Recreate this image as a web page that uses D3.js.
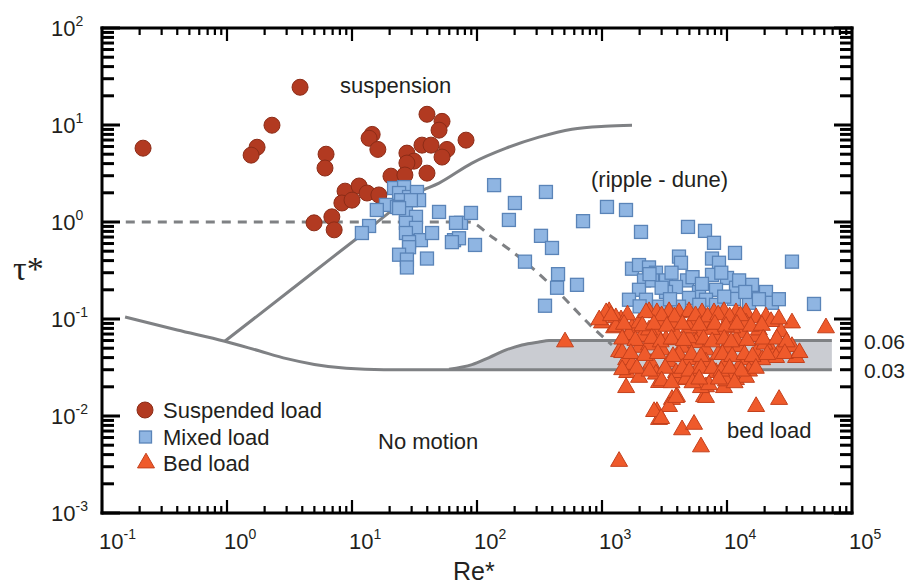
<!DOCTYPE html>
<html>
<head>
<meta charset="utf-8">
<script src="https://cdn.jsdelivr.net/npm/d3@7"></script>
<style>
body { margin: 0; background: #fff; }
text { font-family: "Liberation Sans", Arial, sans-serif; fill: #231f20; }
</style>
</head>
<body>
<div id="chart"></div>
<script>
// Re* / tau* values
var suspendedLoad = [
  [0.213, 5.77], [3.84, 24.5], [2.29, 9.95], [1.74, 5.9], [1.56, 4.89], [6.2, 5.0], [6.08, 3.6],
  [8.8, 2.08], [8.3, 1.57], [4.97, 0.98], [6.9, 1.13], [7.2, 0.83], [39.8, 12.9], [52.5, 10.9],
  [49.7, 8.85], [14.5, 8.0], [13.7, 7.3], [16.1, 5.6], [36.3, 6.2], [42.9, 6.2], [81.7, 6.98],
  [57.5, 5.6], [52.5, 4.67], [27.5, 5.13], [31.3, 4.24], [27.5, 4.05], [39.8, 3.19], [20.5, 2.97],
  [26.5, 3.05], [11.4, 2.35], [13.2, 1.99], [16.4, 1.9], [10, 1.68]
];

var mixedLoad = [
  [21.7, 2.24], [26.1, 2.29], [23.8, 1.99], [28.6, 1.81], [33.1, 2.04], [34.4, 1.68], [24.7, 1.68],
  [18.7, 1.5], [15.8, 1.33], [22.9, 1.43], [27, 1.24], [32.5, 1.13], [49.7, 1.27], [27, 0.98],
  [32.5, 0.87], [27, 0.77], [35.6, 0.65], [43.7, 0.77], [28.6, 0.62], [28.6, 0.55], [23.8, 0.46],
  [27.5, 0.41], [27.5, 0.34], [39.8, 0.42], [13.7, 0.91], [12, 0.77], [65.5, 0.65], [71.8, 0.68],
  [96.4, 0.58], [74.5, 0.98], [89.5, 1.24], [67.9, 0.98], [29.6, 1.68], [23.8, 1.39], [63, 0.62],
  [137, 2.4], [356, 2.04], [201, 1.57], [180, 1.05], [325, 0.72], [398, 0.54], [242, 0.39],
  [445, 0.29], [437, 0.21], [631, 0.225], [350, 0.137], [1096, 1.43], [1556, 1.33], [705, 1.02],
  [2051, 0.79], [4875, 0.89], [6668, 0.81], [7870, 0.61], [11590, 0.48], [4130, 0.44], [4285, 0.38],
  [7586, 0.42], [8630, 0.38], [33100, 0.39], [1738, 0.33], [1977, 0.36], [2377, 0.34], [2704, 0.30],
  [2168, 0.25], [3251, 0.25], [4786, 0.25], [7586, 0.285], [10000, 0.265], [3908, 0.214],
  [15850, 0.225], [20500, 0.19], [1977, 0.2], [3251, 0.19], [5970, 0.19], [8166, 0.2], [11800, 0.21],
  [1644, 0.158], [2249, 0.158], [4966, 0.165], [6792, 0.158], [11376, 0.161], [15000, 0.147],
  [22900, 0.147], [49660, 0.143], [2858, 0.134], [4130, 0.134], [8166, 0.14], [2512, 0.25],
  [2400, 0.29], [3000, 0.21], [3600, 0.3], [5300, 0.27], [6300, 0.23], [9000, 0.3], [12500, 0.25],
  [14000, 0.19], [18000, 0.16], [26000, 0.16], [3500, 0.16], [6000, 0.14], [9500, 0.17], [2000, 0.135]
];

var bedLoad = [
  [506, 0.058], [61900, 0.081], [33100, 0.091], [27000, 0.074], [35700, 0.040], [26100, 0.0148],
  [17100, 0.0125], [1370, 0.0034], [6190, 0.0048], [4370, 0.0072], [5450, 0.0082], [1560, 0.0196],
  [2750, 0.0111], [2860, 0.0092], [3630, 0.0148], [3980, 0.0158], [6550, 0.0158], [9460, 0.0196],
  [6790, 0.020], [2860, 0.0221], [1590, 0.028], [3440, 0.0125], [3910, 0.0155], [2610, 0.0111],
  [2970, 0.0094], [6790, 0.0155], [6190, 0.0196], [4130, 0.0237], [11800, 0.0237], [1140, 0.119],
  [1000, 0.091], [1420, 0.098], [1250, 0.081], [1740, 0.081], [1980, 0.091], [2380, 0.119],
  [2750, 0.116], [3440, 0.119], [4130, 0.116], [4970, 0.119], [6310, 0.116], [7870, 0.116],
  [9460, 0.119], [11800, 0.116], [14200, 0.116], [17100, 0.103], [20500, 0.105], [22500, 0.094],
  [1640, 0.069], [2700, 0.072], [3910, 0.069], [5970, 0.072], [9120, 0.074], [13200, 0.072],
  [17100, 0.066], [1370, 0.046], [1560, 0.038], [1980, 0.051], [3020, 0.048], [4370, 0.051],
  [5650, 0.057], [6790, 0.048], [9820, 0.051], [12500, 0.052], [17100, 0.045], [22500, 0.048],
  [27500, 0.051], [33100, 0.052], [24700, 0.040], [19100, 0.038], [14200, 0.038], [9820, 0.036],
  [6790, 0.036], [4970, 0.038], [3440, 0.036], [2470, 0.035], [1740, 0.034], [1450, 0.030],
  [2700, 0.027], [3910, 0.028], [5650, 0.027], [8170, 0.028], [11000, 0.027], [15000, 0.029],
  [14200, 0.025], [4700, 0.024], [7180, 0.021], [9820, 0.023], [2090, 0.066], [3250, 0.061],
  [4970, 0.064], [8170, 0.064], [11800, 0.061], [3630, 0.091], [5250, 0.094], [7180, 0.091],
  [10400, 0.091], [14200, 0.091], [2860, 0.091], [1080, 0.116], [1290, 0.103], [1290, 0.083],
  [2250, 0.116], [1450, 0.045], [2380, 0.077], [4970, 0.081], [7500, 0.078], [11000, 0.081],
  [18000, 0.077], [4130, 0.043], [5970, 0.032], [8500, 0.043], [12500, 0.032], [2380, 0.054],
  [20000, 0.055], [1980, 0.025], [950, 0.098],
  [1180, 0.108], [1600, 0.11], [3000, 0.108], [3800, 0.105], [5600, 0.108], [7000, 0.105],
  [8500, 0.11], [10500, 0.105], [12800, 0.108], [26000, 0.10],
  [1500, 0.088], [2100, 0.085], [2600, 0.088], [3300, 0.084], [4400, 0.088], [6000, 0.086],
  [8000, 0.088], [9800, 0.084], [12000, 0.088], [15500, 0.084], [19000, 0.086],
  [1450, 0.062], [1850, 0.06], [2500, 0.063], [2950, 0.058], [3600, 0.062], [4500, 0.06],
  [6500, 0.062], [7600, 0.058], [9500, 0.062], [10800, 0.058], [14500, 0.06], [19500, 0.062],
  [25000, 0.062], [30000, 0.058],
  [1700, 0.044], [2200, 0.042], [2800, 0.044], [3700, 0.041], [5200, 0.043], [6200, 0.041],
  [9200, 0.043], [11000, 0.041], [13800, 0.043], [16000, 0.041], [21000, 0.043], [29000, 0.044],
  [38000, 0.045],
  [1900, 0.031], [2400, 0.029], [3200, 0.031], [4400, 0.031], [5000, 0.029], [6200, 0.031],
  [7600, 0.031], [9000, 0.029], [10500, 0.031], [13000, 0.029], [17000, 0.031],
  [3000, 0.023], [3600, 0.022], [5300, 0.022], [6000, 0.024], [8600, 0.024], [11500, 0.022]
];

// threshold curves
var shieldsCurve = [[0.153, 0.105], [0.4, 0.077], [0.96, 0.059], [1.8, 0.047], [3, 0.039],
  [5, 0.034], [9, 0.031], [18, 0.030], [69000, 0.030]];
var upperBand = [[59.7, 0.0303], [91.2, 0.0338], [125, 0.040], [171, 0.048], [229, 0.054],
  [313, 0.058], [377, 0.060], [69000, 0.060]];
var bandBase = 0.03;
var suspensionCurve = [[0.96, 0.059], [3.25, 0.2], [11, 0.68], [34.4, 2.04], [49.7, 2.52],
  [91.2, 4.05], [171, 5.77], [313, 7.49], [575, 9.05], [1057, 9.72], [1738, 9.95]];
var rippleDuneLine = [[0.155, 1], [86.3, 1], [132, 0.70], [247, 0.38], [453, 0.186],
  [832, 0.083], [1202, 0.054]];

var xMajor = [0.1, 1, 10, 100, 1000, 10000, 100000];
var xExp = ["-1", "0", "1", "2", "3", "4", "5"];
var yMajor = [0.001, 0.01, 0.1, 1, 10, 100];
var yExp = ["-3", "-2", "-1", "0", "1", "2"];
var bandLabels = [[0.06, "0.06"], [0.03, "0.03"]];
var legendItems = ["Suspended load", "Mixed load", "Bed load"];

var W = 909, H = 587;
var pLeft = 102, pRight = 852, pTop = 28, pBottom = 513;

var svg = d3.select("#chart").append("svg")
  .attr("width", W).attr("height", H);

var x = d3.scaleLog().domain([0.1, 1e5]).range([pLeft, pRight]);
var y = d3.scaleLog().domain([1e-3, 1e2]).range([pBottom, pTop]);

var grey = "#7f8184";
var ink = "#000000";

// shaded band
var area = d3.area()
  .x(function(d) { return x(d[0]); })
  .y0(y(bandBase))
  .y1(function(d) { return y(d[1]); })
  .curve(d3.curveMonotoneX);
svg.append("path").datum(upperBand)
  .attr("d", area).attr("fill", "#caccd2");

var line = d3.line()
  .x(function(d) { return x(d[0]); })
  .y(function(d) { return y(d[1]); })
  .curve(d3.curveMonotoneX);

[shieldsCurve, upperBand, suspensionCurve].forEach(function(c) {
  svg.append("path").datum(c)
    .attr("d", line)
    .attr("fill", "none").attr("stroke", grey).attr("stroke-width", 3);
});
svg.append("path").datum(rippleDuneLine)
  .attr("d", line)
  .attr("fill", "none").attr("stroke", grey).attr("stroke-width", 3)
  .attr("stroke-dasharray", "9,7");

// data points
svg.append("g").selectAll("circle")
  .data(suspendedLoad).enter().append("circle")
  .attr("cx", function(d) { return x(d[0]); })
  .attr("cy", function(d) { return y(d[1]); })
  .attr("r", 8)
  .attr("fill", "#b23a21").attr("stroke", "#8c2c17").attr("stroke-width", 1);

svg.append("g").selectAll("rect")
  .data(mixedLoad).enter().append("rect")
  .attr("x", function(d) { return x(d[0]) - 6.5; })
  .attr("y", function(d) { return y(d[1]) - 6.5; })
  .attr("width", 13).attr("height", 13)
  .attr("fill", "#8fb5e2").attr("stroke", "#5a84b8").attr("stroke-width", 1.3);

var tri = d3.symbol().type(d3.symbolTriangle).size(125);
svg.append("g").selectAll("path")
  .data(bedLoad).enter().append("path")
  .attr("d", tri)
  .attr("transform", function(d) { return "translate(" + x(d[0]) + "," + y(d[1]) + ")"; })
  .attr("fill", "#ef5a2b").attr("stroke", "#c4401c").attr("stroke-width", 1);

// frame and ticks as filled bars, ticks point into the plot
var xMinor = x.ticks().filter(function(v) { return xMajor.indexOf(v) < 0; });
var yMinor = y.ticks().filter(function(v) { return yMajor.indexOf(v) < 0; });

var axisG = svg.append("g").attr("class", "frame");
function bar(x0, y0, w, h) {
  axisG.append("rect").attr("x", x0).attr("y", y0)
    .attr("width", w).attr("height", h).style("fill", ink);
}
bar(pLeft - 1.5, pTop - 1.5, pRight - pLeft + 3, 3);
bar(pLeft - 1.5, pBottom - 1.5, pRight - pLeft + 3, 3);
bar(pLeft - 1.5, pTop - 1.5, 3, pBottom - pTop + 3);
bar(pRight - 1.5, pTop - 1.5, 3, pBottom - pTop + 3);

function xTicks(vals, len) {
  vals.forEach(function(v) {
    bar(x(v) - 1.1, pBottom - len, 2.2, len);
    bar(x(v) - 1.1, pTop, 2.2, len);
  });
}
function yTicks(vals, len) {
  vals.forEach(function(v) {
    bar(pLeft, y(v) - 1.5, len, 3);
    bar(pRight - len, y(v) - 1.5, len, 3);
  });
}
xTicks(xMajor, 13);
xTicks(xMinor, 7);
yTicks(yMajor, 18);
yTicks(yMinor, 12);

// tick labels
xMajor.forEach(function(v, i) {
  var t = svg.append("text").attr("x", x(v) - 3).attr("y", 549).attr("font-size", 22);
  t.append("tspan").text("10");
  t.append("tspan").attr("dy", -10).attr("font-size", 14).text(xExp[i]);
});
yMajor.forEach(function(v, i) {
  var t = svg.append("text").attr("x", 51).attr("y", y(v) + 8).attr("font-size", 22);
  t.append("tspan").text("10");
  t.append("tspan").attr("dy", -10).attr("font-size", 14).text(yExp[i]);
});
bandLabels.forEach(function(b) {
  svg.append("text").attr("x", 864).attr("y", y(b[0]) + 8)
    .attr("font-size", 21).text(b[1]);
});

// axis titles
svg.append("text").attr("x", 13).attr("y", 280)
  .style("font-family", "'Liberation Serif', 'Times New Roman', serif")
  .attr("font-size", 34).text("τ*");
svg.append("text").attr("x", 453).attr("y", 580)
  .attr("font-size", 25).text("Re*");

// region annotations
svg.append("text").attr("x", 340).attr("y", 93).attr("font-size", 22).text("suspension");
svg.append("text").attr("x", 591).attr("y", 187).attr("font-size", 22).text("(ripple - dune)");
svg.append("text").attr("x", 378).attr("y", 449).attr("font-size", 22).text("No motion");
svg.append("text").attr("x", 727).attr("y", 438).attr("font-size", 22).text("bed load");

// legend
var lg = svg.append("g");
lg.append("circle").attr("cx", 145).attr("cy", 410).attr("r", 8)
  .attr("fill", "#b23a21").attr("stroke", "#8c2c17");
lg.append("rect").attr("x", 139.5).attr("y", 431).attr("width", 12).attr("height", 12)
  .attr("fill", "#8fb5e2").attr("stroke", "#5a84b8").attr("stroke-width", 1.3);
lg.append("path").attr("d", tri).attr("transform", "translate(146,463)")
  .attr("fill", "#ef5a2b").attr("stroke", "#c4401c");
legendItems.forEach(function(s, i) {
  lg.append("text").attr("x", 163).attr("y", 418 + i * 26.5).attr("font-size", 22).text(s);
});
</script>
</body>
</html>
